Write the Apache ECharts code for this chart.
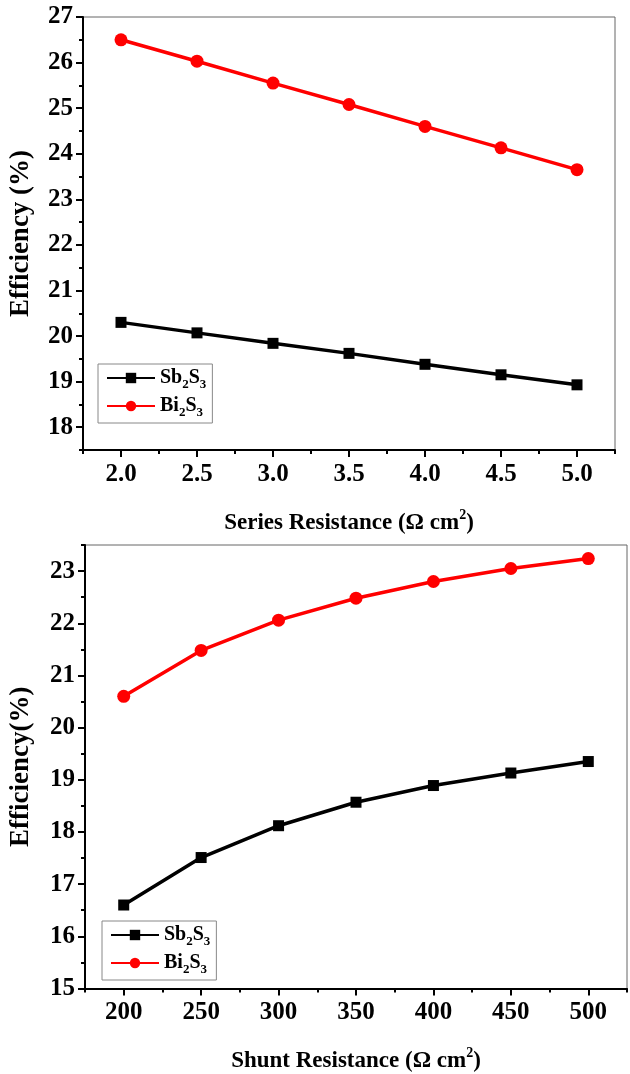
<!DOCTYPE html>
<html>
<head>
<meta charset="utf-8">
<script src="https://cdn.jsdelivr.net/npm/echarts@6/dist/echarts.min.js"></script>
<style>
html,body{margin:0;padding:0;background:#fff;}
#chart{width:630px;height:1074px;}
</style>
</head>
<body>
<div id="chart"></div>
<script>
// ---- Data ----
const seriesResX = [2.0, 2.5, 3.0, 3.5, 4.0, 4.5, 5.0];
const seriesResSb2S3 = [20.30, 20.07, 19.84, 19.62, 19.38, 19.15, 18.93];
const seriesResBi2S3 = [26.50, 26.03, 25.55, 25.08, 24.60, 24.13, 23.65];

const shuntResX = [200, 250, 300, 350, 400, 450, 500];
const shuntResSb2S3 = [16.60, 17.51, 18.12, 18.57, 18.89, 19.13, 19.35];
const shuntResBi2S3 = [20.60, 21.48, 22.06, 22.48, 22.80, 23.05, 23.24];

const topYTicks = [18, 19, 20, 21, 22, 23, 24, 25, 26, 27];
const topXTicks = [2.0, 2.5, 3.0, 3.5, 4.0, 4.5, 5.0];
const botYTicks = [15, 16, 17, 18, 19, 20, 21, 22, 23];
const botXTicks = [200, 250, 300, 350, 400, 450, 500];

const seriesNames = ['Sb2S3', 'Bi2S3'];

// ---- Styling helpers ----
const FONT = '"Liberation Serif", "Times New Roman", serif';
const pair = (xs, ys) => xs.map((x, i) => [x, ys[i]]);

function minorAxis(gridIndex, min, max, interval, labelVals, isX, extra) {
  return Object.assign({
    type: 'value', gridIndex, min, max, interval,
    position: isX ? 'bottom' : 'left',
    axisLine: { show: true, onZero: false, lineStyle: { color: '#000', width: 2 } },
    axisTick: { show: true, length: 4, lineStyle: { color: '#000', width: 2 } },
    splitLine: { show: false },
    axisLabel: {
      show: true,
      fontFamily: FONT, fontWeight: 'bold', fontSize: 25, color: '#000',
      margin: isX ? 12 : 10,
      formatter: v => {
        const hit = labelVals.some(t => Math.abs(t - v) < 1e-6);
        if (!hit) return '';
        return isX && interval < 1 ? v.toFixed(1) : String(Math.round(v));
      }
    }
  }, extra || {});
}
function majorAxis(gridIndex, min, max, ticks, isX) {
  return {
    type: 'value', gridIndex, min, max,
    position: isX ? 'bottom' : 'left',
    axisLine: { show: false, onZero: false },
    axisTick: { show: true, length: 7, customValues: ticks, lineStyle: { color: '#000', width: 2 } },
    axisLabel: { show: false },
    splitLine: { show: false }
  };
}

const nameRich = {
  t: { fontFamily: FONT, fontWeight: 'bold', fontSize: 23, color: '#000', lineHeight: 30, verticalAlign: 'middle' },
  p: { fontFamily: FONT, fontWeight: 'bold', fontSize: 14, color: '#000', lineHeight: 14, verticalAlign: 'top' }
};

const legendRich = {
  n: { fontFamily: FONT, fontWeight: 'bold', fontSize: 20, color: '#000', lineHeight: 26, verticalAlign: 'middle' },
  s: { fontFamily: FONT, fontWeight: 'bold', fontSize: 13, color: '#000', lineHeight: 13, verticalAlign: 'bottom' }
};
function legendFmt(name) {
  if (name === 'Sb2S3') return '{n|Sb}{s|2}{n|S}{s|3}';
  return '{n|Bi}{s|2}{n|S}{s|3}';
}
function makeLegend(left, top) {
  return {
    data: seriesNames, orient: 'vertical', left, top,
    itemWidth: 48, itemHeight: 13, itemGap: 5,
    padding: [4, 6, 4, 8],
    borderColor: '#888', borderWidth: 1, borderRadius: 0,
    backgroundColor: '#fff',
    formatter: legendFmt,
    textStyle: { rich: legendRich }
  };
}

function lineSeries(name, xi, yi, data, color, symbol, size) {
  return {
    name, type: 'line', xAxisIndex: xi, yAxisIndex: yi, data,
    symbol, symbolSize: size, showSymbol: true,
    lineStyle: { color, width: 3.5 }, itemStyle: { color },
    animation: false, z: 5
  };
}

const option = {
  animation: false,
  backgroundColor: '#fff',
  grid: [
    { left: 81, top: 17, width: 534, height: 433, show: true, borderColor: '#666', borderWidth: 1, backgroundColor: 'transparent' },
    { left: 80, top: 545, width: 548, height: 448, show: true, borderColor: '#666', borderWidth: 1, backgroundColor: 'transparent' }
  ],
  xAxis: [
    minorAxis(0, 1.75, 5.25, 0.25, topXTicks, true, {
      name: '{t|Series Resistance (Ω cm}{p|2}{t|)}',
      nameLocation: 'middle', nameGap: 58,
      nameTextStyle: { rich: nameRich }
    }),
    majorAxis(0, 1.75, 5.25, topXTicks, true),
    minorAxis(1, 175, 525, 25, botXTicks, true, {
      name: '{t|Shunt Resistance (Ω cm}{p|2}{t|)}',
      nameLocation: 'middle', nameGap: 58,
      nameTextStyle: { rich: nameRich }
    }),
    majorAxis(1, 175, 525, botXTicks, true)
  ],
  yAxis: [
    minorAxis(0, 17.5, 27, 0.5, topYTicks, false, {
      name: 'Efficiency (%)', nameLocation: 'middle', nameGap: 48,
      nameTextStyle: { fontFamily: FONT, fontWeight: 'bold', fontSize: 27, color: '#000' }
    }),
    majorAxis(0, 17.5, 27, topYTicks, false),
    minorAxis(1, 15, 23.5, 0.5, botYTicks, false, {
      name: 'Efficiency(%)', nameLocation: 'middle', nameGap: 50,
      nameTextStyle: { fontFamily: FONT, fontWeight: 'bold', fontSize: 27, color: '#000' }
    }),
    majorAxis(1, 15, 23.5, botYTicks, false)
  ],
  legend: [makeLegend(98, 364), makeLegend(102, 921)],
  series: [
    lineSeries('Sb2S3', 0, 0, pair(seriesResX, seriesResSb2S3), '#000', 'rect', 11),
    lineSeries('Bi2S3', 0, 0, pair(seriesResX, seriesResBi2S3), '#ff0000', 'circle', 13),
    lineSeries('Sb2S3', 2, 2, pair(shuntResX, shuntResSb2S3), '#000', 'rect', 11),
    lineSeries('Bi2S3', 2, 2, pair(shuntResX, shuntResBi2S3), '#ff0000', 'circle', 13)
  ]
};

const chart = echarts.init(document.getElementById('chart'), null, { renderer: 'canvas' });
chart.setOption(option);
</script>
</body>
</html>
